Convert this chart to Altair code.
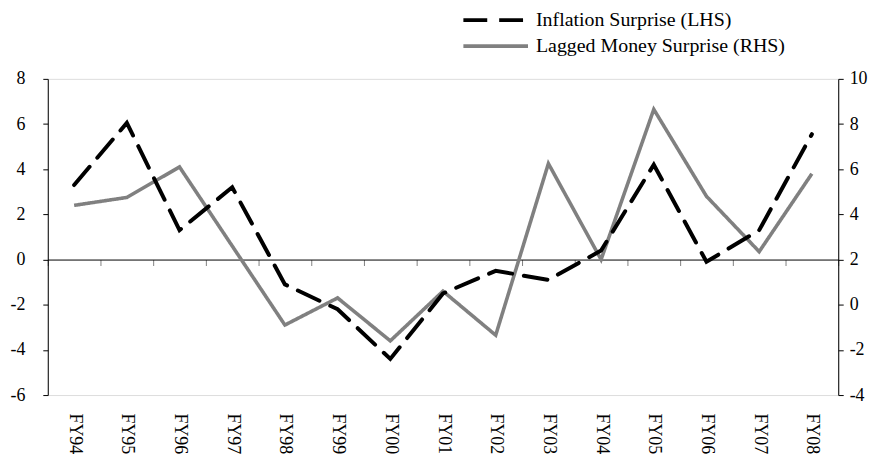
import altair as alt
import pandas as pd

years = ["FY94", "FY95", "FY96", "FY97", "FY98", "FY99", "FY00", "FY01",
         "FY02", "FY03", "FY04", "FY05", "FY06", "FY07", "FY08"]
inflation = [3.3, 6.05, 1.3, 3.2, -1.1, -2.2, -4.4, -1.5, -0.5, -0.9, 0.4, 4.2, -0.1, 1.3, 5.55]
money = [4.4, 4.75, 6.1, 2.6, -0.9, 0.3, -1.6, 0.6, -1.35, 6.25, 2.0, 8.65, 4.8, 2.35, 5.8]

S1 = "Inflation Surprise (LHS)"
S2 = "Lagged Money Surprise (RHS)"

df = pd.DataFrame({
    "year": years * 2,
    "series": [S1] * len(years) + [S2] * len(years),
    "value": inflation + money,
})

FONT = "Liberation Serif"
W, H = 795, 318

legend_opts = dict(orient="none", legendX=416, legendY=-68, title=None,
                   symbolType="stroke", symbolSize=4225, clipHeight=18,
                   symbolStrokeWidth=3.8, labelFont=FONT, labelLimit=500,
                   labelFontSize=20, labelColor="black",
                   labelOffset=6, rowPadding=6)

color = alt.Color("series:N",
                  scale=alt.Scale(domain=[S1, S2], range=["#000000", "#808080"]),
                  legend=alt.Legend(**legend_opts))
dash = alt.StrokeDash("series:N",
                      scale=alt.Scale(domain=[S1, S2], range=[[24, 12], [1, 0]]),
                      legend=alt.Legend(**legend_opts))

xpt = alt.X("year:N", sort=years,
            scale=alt.Scale(type="point", padding=0.5),
            axis=alt.Axis(title=None, orient="bottom", domain=False, ticks=False,
                          labelAngle=90, labelFont=FONT, labelFontSize=18,
                          labelColor="black", labelPadding=18))
xpt_noaxis = alt.X("year:N", sort=years,
                   scale=alt.Scale(type="point", padding=0.5), axis=None)

base = alt.Chart(df)

minus_expr = "datum.value < 0 ? '-' + abs(datum.value) : '' + datum.value"
yaxis_common = dict(title=None, grid=False, domainColor="black", tickColor="black",
                    tickSize=5, labelFont=FONT, labelFontSize=18, labelColor="black",
                    labelExpr=minus_expr)

infl = base.transform_filter(alt.datum.series == S1).mark_line(
    strokeWidth=4, strokeCap="round").encode(
    x=xpt,
    y=alt.Y("value:Q", scale=alt.Scale(domain=[-6, 8], nice=False),
            axis=alt.Axis(orient="left", values=list(range(-6, 9, 2)),
                          labelPadding=18, **yaxis_common)),
    color=color, strokeDash=dash,
)

mon = base.transform_filter(alt.datum.series == S2).mark_line(
    strokeWidth=3.6).encode(
    x=xpt_noaxis,
    y=alt.Y("value:Q", scale=alt.Scale(domain=[-4, 10], nice=False),
            axis=alt.Axis(orient="right", values=list(range(-4, 11, 2)),
                          labelPadding=6, **yaxis_common)),
    color=color, strokeDash=dash,
)

zero_axis = base.transform_filter(alt.datum.series == S1).mark_point(opacity=0).encode(
    x=alt.X("year:N", sort=years,
            scale=alt.Scale(type="band", paddingInner=0, paddingOuter=0),
            axis=alt.Axis(title=None, labels=False, domain=True, domainColor="black",
                          ticks=True, tickBand="extent", tickColor="#808080",
                          tickSize=6, offset=-H * 6 / 14, orient="bottom")),
    y=alt.Y("value:Q", scale=alt.Scale(domain=[-6, 8], nice=False), axis=None),
)

chart = alt.layer(zero_axis, mon, infl).resolve_scale(
    x="independent", y="independent"
).properties(
    width=W, height=H,
    autosize=alt.AutoSizeParams(type="none"),
    padding={"left": 40, "top": 70, "right": 40, "bottom": 58},
).configure_view(stroke=None).configure(background="white")

chart.save("out.html", embed_options={"renderer": "svg", "actions": False})
